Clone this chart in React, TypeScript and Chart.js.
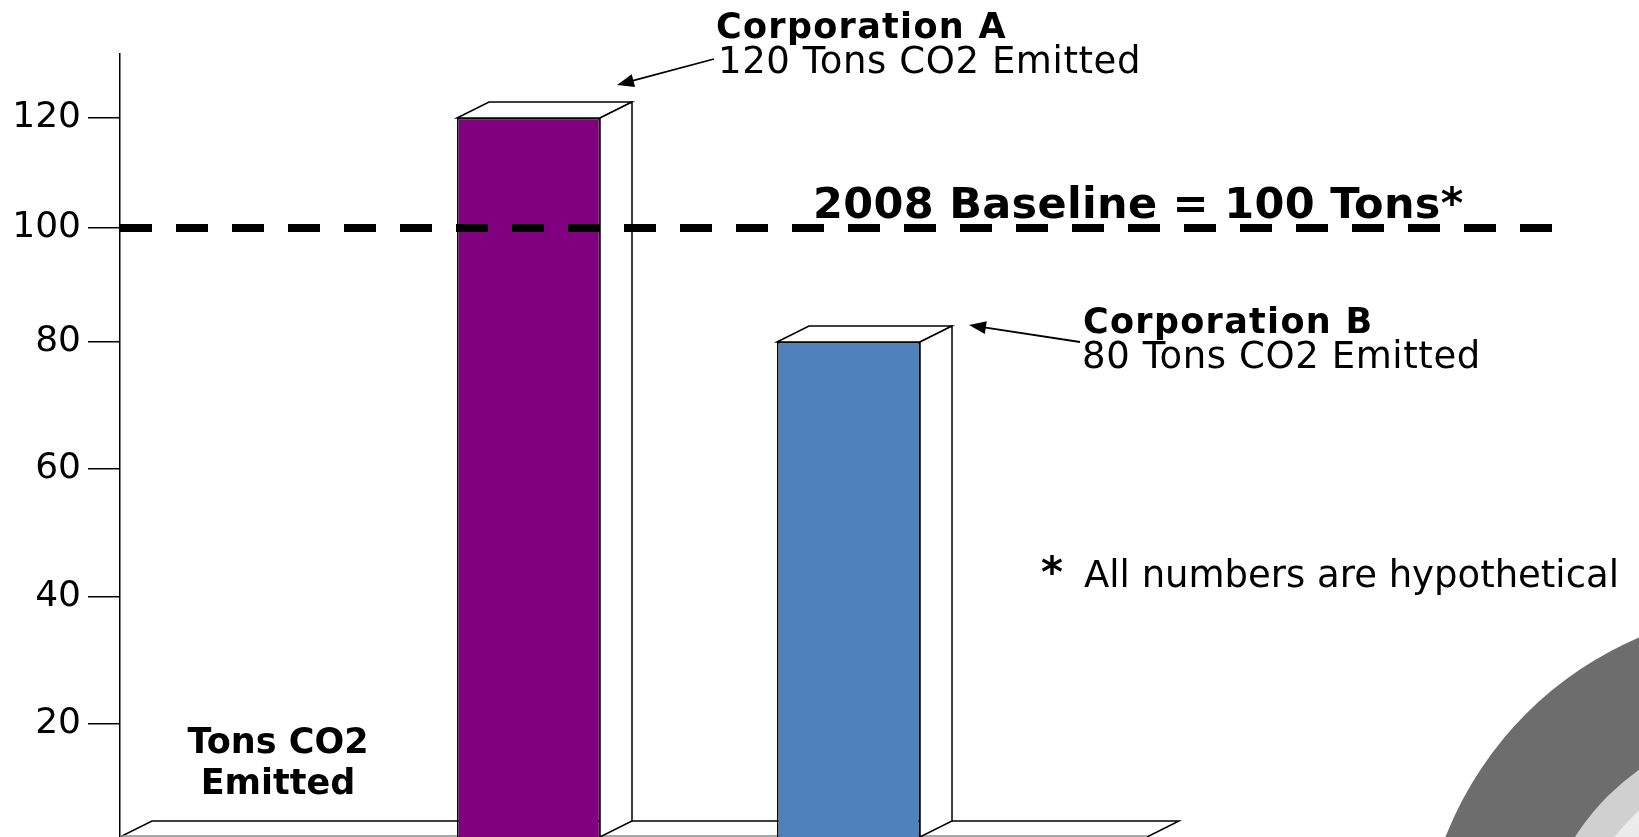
import React, { useEffect, useRef } from 'react';
import { Chart, registerables, LinearScale } from 'chart.js';

Chart.register(...registerables);

// ---------- data ----------
const CATEGORIES = ['Tons CO2 Emitted'];
const SERIES_NAMES = ['Corporation A', 'Corporation B'];
const SERIES_A = [120];
const SERIES_B = [80];
const SERIES_COLORS = ['#800080', '#4f81bd'];
const Y_TICKS = [20, 40, 60, 80, 100, 120];
const Y_MAX = 132;
const BASELINE_VALUE = 100;
const BASELINE_LABEL = '2008 Baseline = 100 Tons*';
const CALLOUT_TITLES = ['Corporation A', 'Corporation B'];
const CALLOUT_TEXTS = ['120 Tons CO2 Emitted', '80 Tons CO2 Emitted'];
const CATEGORY_LINES = ['Tons CO2', 'Emitted'];
const FOOTNOTE = 'All numbers are hypothetical';

// The reference axis has uneven spacing between its ticks:
// value knots and the share of the axis height they sit at.
const AXIS_KNOT_VALUES = [0, 20, 40, 60, 80, 100, 120, Y_MAX];
const AXIS_KNOT_SHARES = [0, 0.1443, 0.3065, 0.47, 0.6322, 0.7778, 0.9183, 1];

const FONT = '"DejaVu Sans", Verdana, sans-serif';

function interp(v: number, xs: number[], ys: number[]) {
  if (v <= xs[0]) {
    const k = (ys[1] - ys[0]) / (xs[1] - xs[0]);
    return ys[0] + (v - xs[0]) * k;
  }
  for (let i = 1; i < xs.length; i++) {
    if (v <= xs[i]) {
      const t = (v - xs[i - 1]) / (xs[i] - xs[i - 1]);
      return ys[i - 1] + t * (ys[i] - ys[i - 1]);
    }
  }
  const n = xs.length - 1;
  const k = (ys[n] - ys[n - 1]) / (xs[n] - xs[n - 1]);
  return ys[n] + (v - xs[n]) * k;
}

class UnevenScale extends LinearScale {
  static id = 'uneven';
  static defaults = LinearScale.defaults;
  getPixelForValue(value: any) {
    if (value === null || value === undefined || Number.isNaN(+value)) return NaN;
    return this.getPixelForDecimal(interp(+value, AXIS_KNOT_VALUES, AXIS_KNOT_SHARES));
  }
  getValueForPixel(pixel: number) {
    return interp(this.getDecimalForPixel(pixel), AXIS_KNOT_SHARES, AXIS_KNOT_VALUES);
  }
}
Chart.register(UnevenScale as any);

const DEPTH_X = 32;
const DEPTH_Y = -16;

function drawArrow(ctx: CanvasRenderingContext2D, x1: number, y1: number, x2: number, y2: number) {
  const ang = Math.atan2(y2 - y1, x2 - x1);
  const len = 17;
  const half = 6.5;
  ctx.save();
  ctx.strokeStyle = '#000';
  ctx.fillStyle = '#000';
  ctx.lineWidth = 1.8;
  ctx.beginPath();
  ctx.moveTo(x1, y1);
  ctx.lineTo(x2 - Math.cos(ang) * len * 0.8, y2 - Math.sin(ang) * len * 0.8);
  ctx.stroke();
  ctx.beginPath();
  ctx.moveTo(x2, y2);
  ctx.lineTo(x2 - Math.cos(ang) * len + Math.sin(ang) * half, y2 - Math.sin(ang) * len - Math.cos(ang) * half);
  ctx.lineTo(x2 - Math.cos(ang) * len - Math.sin(ang) * half, y2 - Math.sin(ang) * len + Math.cos(ang) * half);
  ctx.closePath();
  ctx.fill();
  ctx.restore();
}

function text(ctx: any, s: string, x: number, y: number, font: string, spacing = 0, align: CanvasTextAlign = 'left') {
  ctx.save();
  ctx.font = font;
  ctx.textAlign = align;
  ctx.textBaseline = 'alphabetic';
  ctx.fillStyle = '#000';
  if ('letterSpacing' in ctx) ctx.letterSpacing = `${spacing}px`;
  ctx.fillText(s, x, y);
  ctx.restore();
}

const floorPlugin = {
  id: 'floor3d',
  beforeDatasetsDraw(chart: any) {
    const { ctx, chartArea } = chart;
    const left = chartArea.left;
    const bottom = chartArea.bottom;
    const right = left + 1027;
    ctx.save();
    ctx.strokeStyle = '#000';
    ctx.lineWidth = 1.5;
    ctx.beginPath();
    ctx.moveTo(left, bottom);
    ctx.lineTo(left + DEPTH_X, bottom + DEPTH_Y);
    ctx.lineTo(right + DEPTH_X, bottom + DEPTH_Y);
    ctx.lineTo(right, bottom);
    ctx.stroke();
    ctx.strokeStyle = '#8a8a8a';
    ctx.beginPath();
    ctx.moveTo(left, bottom - 1);
    ctx.lineTo(right, bottom - 1);
    ctx.stroke();
    ctx.restore();
  },
};

const barDepthPlugin = {
  id: 'bar3d',
  afterDatasetsDraw(chart: any) {
    const { ctx } = chart;
    ctx.save();
    ctx.strokeStyle = '#000';
    ctx.fillStyle = '#fff';
    ctx.lineWidth = 1.5;
    ctx.lineJoin = 'miter';
    chart.getSortedVisibleDatasetMetas().forEach((meta: any) => {
      meta.data.forEach((el: any) => {
        const { x, y, width, base } = el.getProps(['x', 'y', 'width', 'base'], true);
        if (!isFinite(y)) return;
        const l = x - width / 2;
        const r = x + width / 2;
        // top face
        ctx.beginPath();
        ctx.moveTo(l, y);
        ctx.lineTo(l + DEPTH_X, y + DEPTH_Y);
        ctx.lineTo(r + DEPTH_X, y + DEPTH_Y);
        ctx.lineTo(r, y);
        ctx.closePath();
        ctx.fill();
        ctx.stroke();
        // side face
        ctx.beginPath();
        ctx.moveTo(r, y);
        ctx.lineTo(r + DEPTH_X, y + DEPTH_Y);
        ctx.lineTo(r + DEPTH_X, base + DEPTH_Y);
        ctx.lineTo(r, base);
        ctx.closePath();
        ctx.fill();
        ctx.stroke();
      });
    });
    ctx.restore();
  },
};

const annotationPlugin = {
  id: 'annotations',
  afterDraw(chart: any) {
    const { ctx, chartArea } = chart;
    const yScale = chart.scales.y;
    ctx.save();

    // decorative ring in the corner
    const cx = 1780.6, cy = 968.4;
    ctx.fillStyle = '#6d6d6d';
    ctx.beginPath(); ctx.arc(cx, cy, 360, 0, Math.PI * 2); ctx.fill();
    ctx.fillStyle = '#d0d0d0';
    ctx.beginPath(); ctx.arc(cx, cy, 244, 0, Math.PI * 2); ctx.fill();
    ctx.fillStyle = '#ececec';
    ctx.beginPath(); ctx.arc(cx, cy, 212, 0, Math.PI * 2); ctx.fill();

    // baseline dashed line
    const yb = yScale.getPixelForValue(BASELINE_VALUE);
    ctx.strokeStyle = '#000';
    ctx.lineWidth = 8;
    ctx.lineCap = 'butt';
    ctx.setLineDash([32, 24]);
    ctx.beginPath();
    ctx.moveTo(chartArea.left, yb);
    ctx.lineTo(1552, yb);
    ctx.stroke();
    ctx.setLineDash([]);
    ctx.restore();

    text(ctx, BASELINE_LABEL, 813, 218, `bold 43px ${FONT}`, 0.3);

    // callouts
    text(ctx, CALLOUT_TITLES[0], 716, 38, `bold 35px ${FONT}`, 1.3);
    text(ctx, CALLOUT_TITLES[1], 1083, 333, `bold 35px ${FONT}`, 1.3);
    text(ctx, CALLOUT_TEXTS[0], 718, 73, `37px ${FONT}`, 0.6);
    text(ctx, CALLOUT_TEXTS[1], 1082, 368, `37px ${FONT}`, 0.6);
    drawArrow(ctx, 714, 59, 617, 85);
    drawArrow(ctx, 1080, 342, 969, 325);

    // footnote
    text(ctx, '*', 1041, 587, `bold 42px ${FONT}`);
    text(ctx, FOOTNOTE, 1084, 587, `37px ${FONT}`);

    // category label inside plot
    text(ctx, CATEGORY_LINES[0], 278, 753, `bold 35px ${FONT}`, 0, 'center');
    text(ctx, CATEGORY_LINES[1], 278, 794, `bold 35px ${FONT}`, 0, 'center');
  },
};

export default function App() {
  const ref = useRef<HTMLCanvasElement>(null);
  useEffect(() => {
    document.body.style.margin = '0';
    Chart.defaults.font.family = FONT;
    const chart = new Chart(ref.current as HTMLCanvasElement, {
      type: 'bar',
      data: {
        labels: CATEGORIES,
        datasets: [
          {
            label: SERIES_NAMES[0],
            data: SERIES_A,
            backgroundColor: SERIES_COLORS[0],
            borderColor: '#000',
            borderWidth: 1.5,
            categoryPercentage: 0.5629,
            barPercentage: 0.4469,
          },
          {
            label: SERIES_NAMES[1],
            data: SERIES_B,
            backgroundColor: SERIES_COLORS[1],
            borderColor: '#000',
            borderWidth: 1.5,
            categoryPercentage: 0.5629,
            barPercentage: 0.4469,
          },
        ],
      },
      options: {
        responsive: false,
        animation: false,
        devicePixelRatio: 1,
        layout: { padding: { left: 0, top: 54, right: 382, bottom: 0 } },
        plugins: {
          legend: { display: false },
          tooltip: { enabled: false },
        },
        scales: {
          x: { type: 'category', display: false, offset: true, grid: { display: false } },
          y: {
            type: 'uneven' as any,
            min: 0,
            max: Y_MAX,
            afterBuildTicks: (s: any) => {
              s.ticks = Y_TICKS.map((v) => ({ value: v }));
            },
            afterFit: (s: any) => {
              s.width = 120;
              s.paddingTop = 0;
              s.paddingBottom = 0;
            },
            ticks: {
              color: '#000',
              padding: 7,
              font: { family: FONT, size: 36 },
              autoSkip: false,
              callback: (v: any) => String(v),
            },
            grid: {
              drawOnChartArea: false,
              drawTicks: true,
              tickLength: 32,
              color: '#000',
              lineWidth: 1.5,
            },
            border: { display: true, color: '#000', width: 1.5 },
          } as any,
        },
      },
      plugins: [floorPlugin, barDepthPlugin, annotationPlugin],
    });
    return () => chart.destroy();
  }, []);
  return (
    <div style={{ position: 'absolute', left: 0, top: 0, width: 1639, height: 837, background: '#fff' }}>
      <canvas ref={ref} width={1639} height={837} style={{ display: 'block' }} />
    </div>
  );
}
